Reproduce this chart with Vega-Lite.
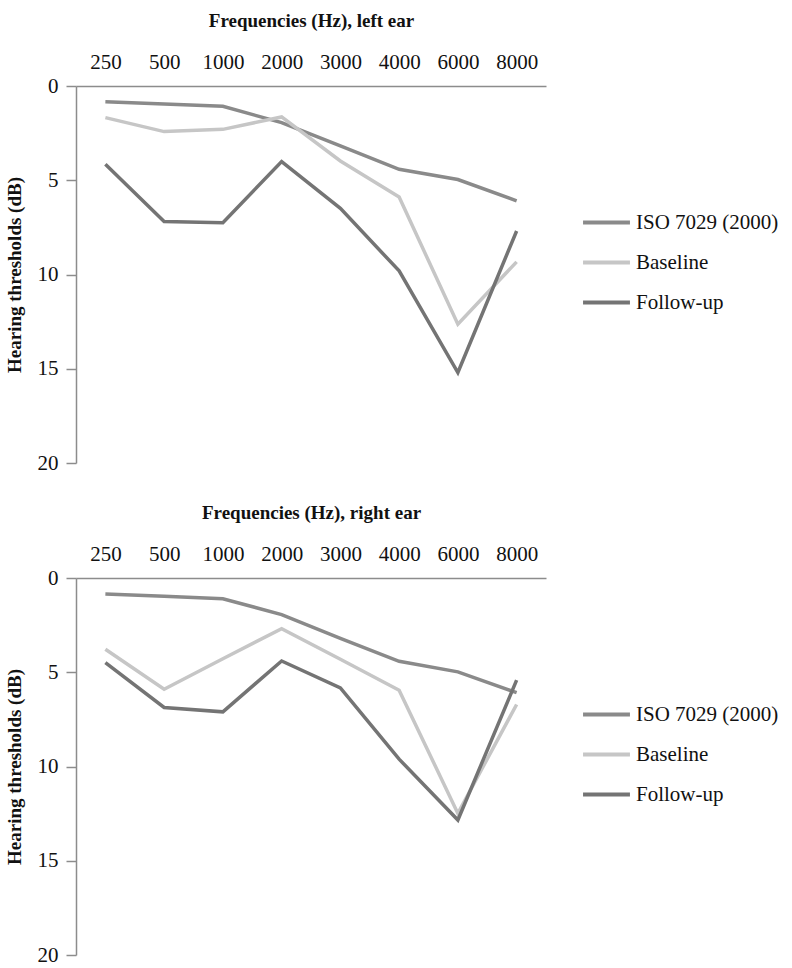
{
  "$schema": "https://vega.github.io/schema/vega-lite/v6.json",
  "background": "white",
  "padding": {"left": 5, "top": 11, "right": 5, "bottom": 5},
  "datasets": {
    "hearing": [
      {"ear": "left", "freq": "250", "series": "ISO 7029 (2000)", "db": 0.83},
      {"ear": "left", "freq": "500", "series": "ISO 7029 (2000)", "db": 0.96},
      {"ear": "left", "freq": "1000", "series": "ISO 7029 (2000)", "db": 1.08},
      {"ear": "left", "freq": "2000", "series": "ISO 7029 (2000)", "db": 1.94},
      {"ear": "left", "freq": "3000", "series": "ISO 7029 (2000)", "db": 3.18},
      {"ear": "left", "freq": "4000", "series": "ISO 7029 (2000)", "db": 4.42},
      {"ear": "left", "freq": "6000", "series": "ISO 7029 (2000)", "db": 4.96},
      {"ear": "left", "freq": "8000", "series": "ISO 7029 (2000)", "db": 6.09},
      {"ear": "left", "freq": "250", "series": "Baseline", "db": 1.68},
      {"ear": "left", "freq": "500", "series": "Baseline", "db": 2.42},
      {"ear": "left", "freq": "1000", "series": "Baseline", "db": 2.3},
      {"ear": "left", "freq": "2000", "series": "Baseline", "db": 1.64},
      {"ear": "left", "freq": "3000", "series": "Baseline", "db": 3.98},
      {"ear": "left", "freq": "4000", "series": "Baseline", "db": 5.89},
      {"ear": "left", "freq": "6000", "series": "Baseline", "db": 12.64},
      {"ear": "left", "freq": "8000", "series": "Baseline", "db": 9.33},
      {"ear": "left", "freq": "250", "series": "Follow-up", "db": 4.15},
      {"ear": "left", "freq": "500", "series": "Follow-up", "db": 7.19},
      {"ear": "left", "freq": "1000", "series": "Follow-up", "db": 7.25},
      {"ear": "left", "freq": "2000", "series": "Follow-up", "db": 4.01},
      {"ear": "left", "freq": "3000", "series": "Follow-up", "db": 6.49},
      {"ear": "left", "freq": "4000", "series": "Follow-up", "db": 9.81},
      {"ear": "left", "freq": "6000", "series": "Follow-up", "db": 15.2},
      {"ear": "left", "freq": "8000", "series": "Follow-up", "db": 7.69},
      {"ear": "right", "freq": "250", "series": "ISO 7029 (2000)", "db": 0.85},
      {"ear": "right", "freq": "500", "series": "ISO 7029 (2000)", "db": 0.97},
      {"ear": "right", "freq": "1000", "series": "ISO 7029 (2000)", "db": 1.1},
      {"ear": "right", "freq": "2000", "series": "ISO 7029 (2000)", "db": 1.94},
      {"ear": "right", "freq": "3000", "series": "ISO 7029 (2000)", "db": 3.2},
      {"ear": "right", "freq": "4000", "series": "ISO 7029 (2000)", "db": 4.42},
      {"ear": "right", "freq": "6000", "series": "ISO 7029 (2000)", "db": 4.98},
      {"ear": "right", "freq": "8000", "series": "ISO 7029 (2000)", "db": 6.08},
      {"ear": "right", "freq": "250", "series": "Baseline", "db": 3.78},
      {"ear": "right", "freq": "500", "series": "Baseline", "db": 5.9},
      {"ear": "right", "freq": "1000", "series": "Baseline", "db": 4.28},
      {"ear": "right", "freq": "2000", "series": "Baseline", "db": 2.69},
      {"ear": "right", "freq": "3000", "series": "Baseline", "db": 4.31},
      {"ear": "right", "freq": "4000", "series": "Baseline", "db": 5.95},
      {"ear": "right", "freq": "6000", "series": "Baseline", "db": 12.49},
      {"ear": "right", "freq": "8000", "series": "Baseline", "db": 6.71},
      {"ear": "right", "freq": "250", "series": "Follow-up", "db": 4.49},
      {"ear": "right", "freq": "500", "series": "Follow-up", "db": 6.87},
      {"ear": "right", "freq": "1000", "series": "Follow-up", "db": 7.1},
      {"ear": "right", "freq": "2000", "series": "Follow-up", "db": 4.4},
      {"ear": "right", "freq": "3000", "series": "Follow-up", "db": 5.83},
      {"ear": "right", "freq": "4000", "series": "Follow-up", "db": 9.61},
      {"ear": "right", "freq": "6000", "series": "Follow-up", "db": 12.84},
      {"ear": "right", "freq": "8000", "series": "Follow-up", "db": 5.42}
    ]
  },
  "config": {
    "font": "Liberation Serif",
    "view": {"stroke": null},
    "axis": {
      "grid": false,
      "domainColor": "#8c8c8c",
      "domainWidth": 1.5,
      "tickColor": "#8c8c8c",
      "tickWidth": 1.5,
      "labelColor": "#111111",
      "labelFont": "Liberation Serif",
      "labelFontSize": 21,
      "titleFont": "Liberation Serif",
      "titleFontSize": 19,
      "titleFontWeight": "bold",
      "titleColor": "#111111"
    },
    "legend": {
      "labelFont": "Liberation Serif",
      "labelFontSize": 21,
      "labelColor": "#111111"
    }
  },
  "resolve": {"legend": {"color": "independent"}},
  "spacing": 30,
  "vconcat": [
    {
      "width": 470,
      "height": 377,
      "data": {"name": "hearing"},
      "transform": [{"filter": "datum.ear === 'left'"}],
      "mark": {"type": "line", "strokeWidth": 3.5},
      "encoding": {
        "x": {
          "field": "freq",
          "type": "ordinal",
          "sort": ["250", "500", "1000", "2000", "3000", "4000", "6000", "8000"],
          "scale": {"type": "point", "padding": 0.5},
          "axis": {"orient": "top", "title": "Frequencies (Hz), left ear", "ticks": false, "labelAngle": 0, "labelPadding": 14, "titlePadding": 21}
        },
        "y": {
          "field": "db",
          "type": "quantitative",
          "scale": {"domain": [0, 20], "reverse": true, "nice": false},
          "axis": {"values": [0, 5, 10, 15, 20], "title": "Hearing thresholds (dB)", "tickSize": 10, "labelPadding": 8, "titlePadding": 13}
        },
        "color": {
          "field": "series",
          "type": "nominal",
          "scale": {"domain": ["ISO 7029 (2000)", "Baseline", "Follow-up"], "range": ["#8a8a8a", "#c6c6c6", "#747474"]},
          "legend": {"title": null, "orient": "none", "legendX": 505, "legendY": 111, "symbolType": "stroke", "symbolSize": 2200, "symbolStrokeWidth": 4, "rowPadding": 4, "labelOffset": 4}
        }
      }
    },
    {
      "width": 470,
      "height": 377,
      "data": {"name": "hearing"},
      "transform": [{"filter": "datum.ear === 'right'"}],
      "mark": {"type": "line", "strokeWidth": 3.5},
      "encoding": {
        "x": {
          "field": "freq",
          "type": "ordinal",
          "sort": ["250", "500", "1000", "2000", "3000", "4000", "6000", "8000"],
          "scale": {"type": "point", "padding": 0.5},
          "axis": {"orient": "top", "title": "Frequencies (Hz), right ear", "ticks": false, "labelAngle": 0, "labelPadding": 14, "titlePadding": 21}
        },
        "y": {
          "field": "db",
          "type": "quantitative",
          "scale": {"domain": [0, 20], "reverse": true, "nice": false},
          "axis": {"values": [0, 5, 10, 15, 20], "title": "Hearing thresholds (dB)", "tickSize": 10, "labelPadding": 8, "titlePadding": 13}
        },
        "color": {
          "field": "series",
          "type": "nominal",
          "scale": {"domain": ["ISO 7029 (2000)", "Baseline", "Follow-up"], "range": ["#8a8a8a", "#c6c6c6", "#747474"]},
          "legend": {"title": null, "orient": "none", "legendX": 505, "legendY": 111, "symbolType": "stroke", "symbolSize": 2200, "symbolStrokeWidth": 4, "rowPadding": 4, "labelOffset": 4}
        }
      }
    }
  ]
}
